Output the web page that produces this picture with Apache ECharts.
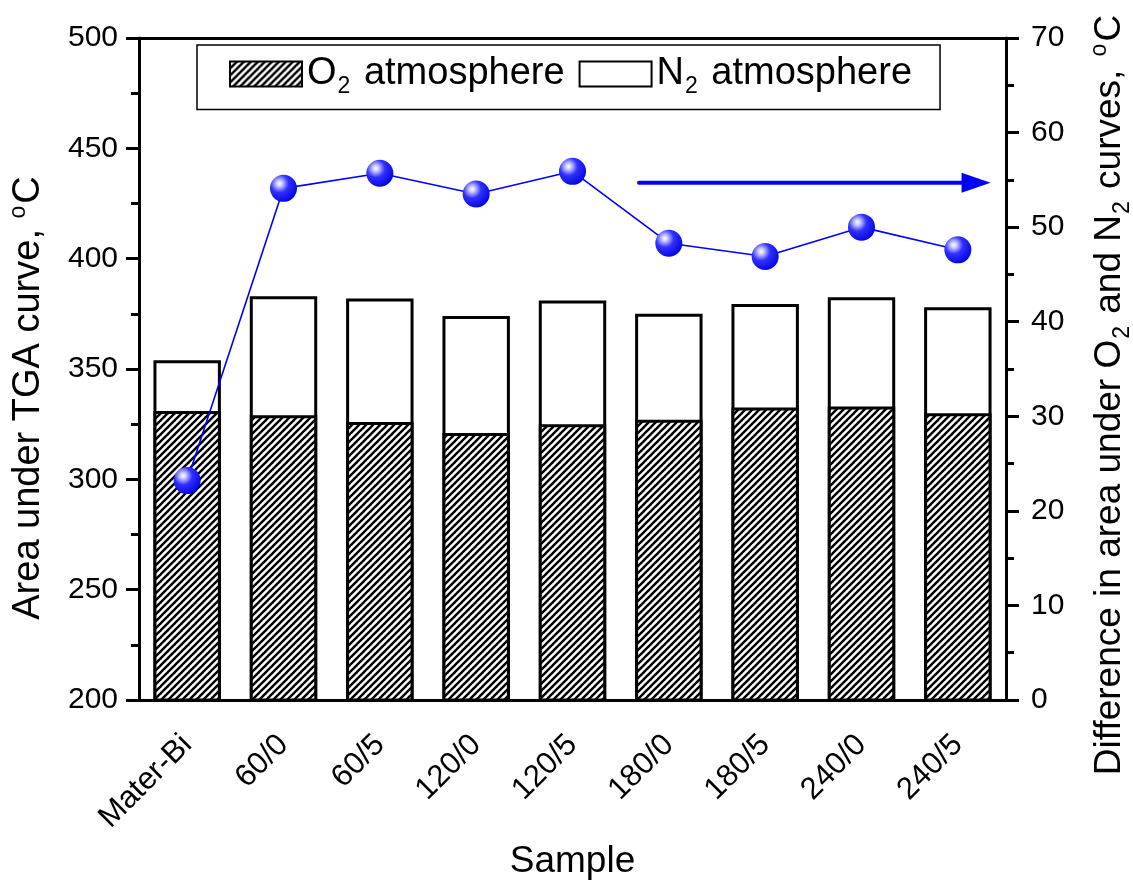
<!DOCTYPE html>
<html><head><meta charset="utf-8">
<script src="https://cdn.jsdelivr.net/npm/echarts@6/dist/echarts.min.js"></script>
<style>html,body{margin:0;padding:0;background:#fff}#c{width:1133px;height:880px}</style>
</head><body><div id="c"></div>
<script>
const categories = ['Mater-Bi','60/0','60/5','120/0','120/5','180/0','180/5','240/0','240/5'];
const n2Values = [354, 383, 382, 374, 381, 375, 379.5, 382.5, 378];
const o2Values = [331, 329, 326, 321, 325, 327, 332.5, 333, 330];
const diffValues = [23.2, 54.1, 55.7, 53.5, 55.9, 48.3, 46.9, 50.0, 47.6];
const leftTicks = {min: 200, max: 500, interval: 50};
const rightTicks = {min: 0, max: 70, interval: 10};
const arrowInfo = {fromCategoryFrac: 4.69, toCategoryFrac: 8.34, value: 54.7};

const tile = document.createElement('canvas');
tile.width = 7; tile.height = 7;
const tc = tile.getContext('2d');
tc.fillStyle = '#fff'; tc.fillRect(0,0,7,7);
tc.strokeStyle = '#000'; tc.lineWidth = 2.4;
[[-1,8,8,-1],[-4.5,4.5,4.5,-4.5],[2.5,11.5,11.5,2.5]].forEach(([x1,y1,x2,y2])=>{tc.beginPath();tc.moveTo(x1,y1);tc.lineTo(x2,y2);tc.stroke();});

const F = "'Liberation Sans',Arial,sans-serif";
const chart = echarts.init(document.getElementById('c'));
const sphere = {type:'radial', x:0.35, y:0.32, r:0.75, colorStops:[
  {offset:0,color:'#ffffff'},{offset:0.15,color:'#c8c8ff'},{offset:0.45,color:'#3030ff'},{offset:1,color:'#0000e0'}]};

chart.setOption({
  animation:false,
  backgroundColor:'#fff',
  grid:{left:139,right:127,top:38,bottom:180,containLabel:false,outerBoundsMode:'none'},
  legend:{
    left:197, top:45,
    padding:[10,28,11,32], itemGap:14, itemWidth:72, itemHeight:25,
    borderColor:'#000', borderWidth:1.5,
    icon:'rect',
    data:['O2','N2'],
    formatter: function(n){ return n==='O2' ? '{a|O}{s|2}{a| atmosphere}' : '{a|N}{s|2}{a| atmosphere}'; },
    textStyle:{fontFamily:F, fontSize:38, color:'#000', rich:{
      a:{fontFamily:F,fontSize:38,color:'#000'},
      s:{fontFamily:F,fontSize:23,color:'#000',padding:[26,3,0,1]}
    }}
  },
  xAxis:[{
    type:'category', data:categories, boundaryGap:true,
    axisLine:{lineStyle:{color:'#000',width:3}},
    axisTick:{show:false},
    axisLabel:{rotate:45, fontFamily:F, fontSize:31, color:'#000', margin:40, interval:0},
    name:'Sample', nameLocation:'middle', nameGap:143,
    nameTextStyle:{fontFamily:F, fontSize:37, color:'#000'}
  },{
    type:'category', data:categories, position:'top',
    axisLine:{lineStyle:{color:'#000',width:3}},
    axisTick:{show:false}, axisLabel:{show:false}
  }],
  yAxis:[{
    type:'value', min:leftTicks.min, max:leftTicks.max, interval:leftTicks.interval,
    axisLine:{show:true,lineStyle:{color:'#000',width:3}},
    axisTick:{show:true,length:13,lineStyle:{width:3,color:'#000'}},
    minorTick:{show:true,splitNumber:2,length:8,lineStyle:{width:3,color:'#000'}},
    splitLine:{show:false},
    axisLabel:{fontFamily:F, fontSize:30, color:'#000', margin:21},
    name:'{a|Area under TGA curve, }{s|o}{a|C}', nameLocation:'middle', nameGap:89, nameRotate:90,
    nameTextStyle:{fontFamily:F, fontSize:38, color:'#000', padding:[0,58,0,0], rich:{
      a:{fontFamily:F,fontSize:38,color:'#000'},
      s:{fontFamily:F,fontSize:23,color:'#000',padding:[0,2,20,0]}
    }}
  },{
    type:'value', min:rightTicks.min, max:rightTicks.max, interval:rightTicks.interval, position:'right',
    axisLine:{show:true,lineStyle:{color:'#000',width:3}},
    axisTick:{show:true,length:13,lineStyle:{width:3,color:'#000'}},
    minorTick:{show:true,splitNumber:2,length:8,lineStyle:{width:3,color:'#000'}},
    splitLine:{show:false},
    axisLabel:{fontFamily:F, fontSize:30, color:'#000', margin:25},
    name:'{a|Difference in area under O}{s|2}{a| and N}{s|2}{a| curves, }{u|o}{a|C}',
    nameLocation:'middle', nameGap:79, nameRotate:90,
    nameTextStyle:{fontFamily:F, fontSize:37, color:'#000', padding:[0,52,0,0], rich:{
      a:{fontFamily:F,fontSize:37,color:'#000'},
      s:{fontFamily:F,fontSize:23,color:'#000',padding:[26,2,0,1]},
      u:{fontFamily:F,fontSize:23,color:'#000',padding:[0,2,20,3]}
    }}
  }],
  series:[{
    name:'N2', type:'bar', data:n2Values, barWidth:'70%', barGap:'-100%',
    itemStyle:{color:'#fff', borderColor:'#000', borderWidth:3}, z:2
  },{
    name:'O2', type:'bar', data:o2Values, barWidth:'70%', barGap:'-100%',
    itemStyle:{color:{image:tile, repeat:'repeat'}, borderColor:'#000', borderWidth:3}, z:3
  },{
    name:'diff', type:'line', yAxisIndex:1, data:diffValues,
    symbol:'circle', symbolSize:27, z:5,
    lineStyle:{color:'#0000ff', width:1.6},
    itemStyle:{color:sphere, borderWidth:0}
  }]
});

function drawArrow(){
  const p1 = chart.convertToPixel({yAxisIndex:1}, arrowInfo.value);
  const x0 = chart.convertToPixel({xAxisIndex:0}, categories[0]);
  const x1c = chart.convertToPixel({xAxisIndex:0}, categories[1]);
  const step = x1c - x0;
  const xa = x0 + arrowInfo.fromCategoryFrac * step;
  const xb = x0 + arrowInfo.toCategoryFrac * step;
  chart.setOption({graphic:[
    {type:'line', shape:{x1:xa, y1:p1, x2:xb-26, y2:p1}, style:{stroke:'#0000ff', lineWidth:4, lineCap:'round'}, z:10},
    {type:'polygon', shape:{points:[[xb-29,p1-10],[xb,p1],[xb-29,p1+10]]}, style:{fill:'#0000ff'}, z:10}
  ]});
}
drawArrow();
</script></body></html>
